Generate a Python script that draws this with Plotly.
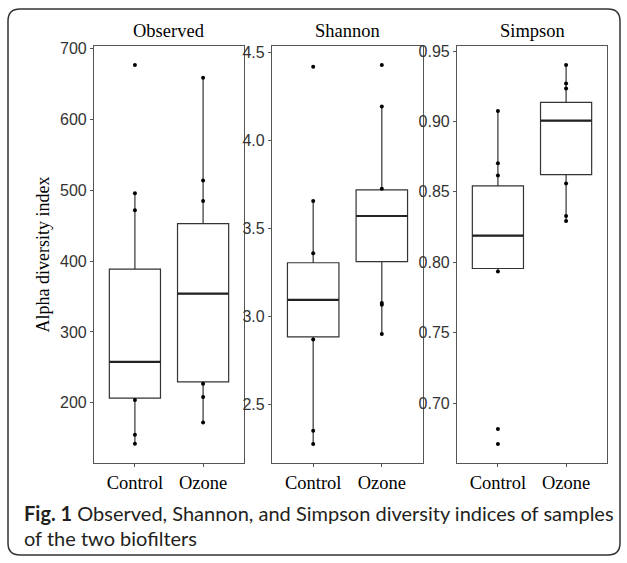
import plotly.graph_objects as go

# ---------------- data ----------------
groups = ["Control", "Ozone"]
metrics = ["Observed", "Shannon", "Simpson"]

observed_q1 = [206.5, 229.6]
observed_median = [257.7, 354.0]
observed_q3 = [388.7, 453.0]
observed_low = [141.7, 172.0]
observed_high = [496.0, 658.6]
observed_pts_control = [677, 496, 472, 204, 155, 142]
observed_pts_ozone = [659, 514, 485, 227, 208, 172]

shannon_q1 = [2.883, 3.311]
shannon_median = [3.094, 3.571]
shannon_q3 = [3.305, 3.720]
shannon_low = [2.274, 2.900]
shannon_high = [3.656, 4.194]
shannon_pts_control = [4.42, 3.656, 3.359, 2.868, 2.349, 2.274]
shannon_pts_ozone = [4.43, 4.194, 3.726, 3.076, 3.066, 2.900]

simpson_q1 = [0.7956, 0.8622]
simpson_median = [0.8189, 0.9006]
simpson_q3 = [0.8542, 0.9135]
simpson_low = [0.7934, 0.8294]
simpson_high = [0.9074, 0.9401]
simpson_pts_control = [0.9074, 0.8704, 0.8617, 0.7934, 0.6816, 0.6710]
simpson_pts_ozone = [0.9401, 0.9269, 0.9234, 0.8559, 0.8328, 0.8294]

observed_ticks = [200, 300, 400, 500, 600, 700]
shannon_ticks = [2.5, 3.0, 3.5, 4.0, 4.5]
simpson_ticks = [0.70, 0.75, 0.80, 0.85, 0.90, 0.95]

y_title = "Alpha diversity index"
caption_bold = "Fig. 1"
caption_line1 = " Observed, Shannon, and Simpson diversity indices of samples"
caption_line2 = "of the two biofilters"

# ---------------- layout geometry ----------------
W, H = 627, 563
px_x = lambda p: p / W
px_y = lambda p: 1 - p / H

x_domains = [[px_x(94), px_x(244)], [px_x(272), px_x(423)], [px_x(457), px_x(607)]]
y_domain = [px_y(463), px_y(46)]

panels = [
    (observed_q1, observed_median, observed_q3, observed_low, observed_high,
     observed_pts_control, observed_pts_ozone, observed_ticks, ".0f"),
    (shannon_q1, shannon_median, shannon_q3, shannon_low, shannon_high,
     shannon_pts_control, shannon_pts_ozone, shannon_ticks, ".1f"),
    (simpson_q1, simpson_median, simpson_q3, simpson_low, simpson_high,
     simpson_pts_control, simpson_pts_ozone, simpson_ticks, ".2f"),
]

box_w = 0.75
line_col = "#333333"
serif = "Liberation Serif, Times New Roman, serif"
sans = "Liberation Sans, Arial, sans-serif"

fig = go.Figure()
layout = dict(
    template="none",
    width=W, height=H,
    margin=dict(l=0, r=0, t=0, b=0, pad=0, autoexpand=False),
    paper_bgcolor="white", plot_bgcolor="white",
    showlegend=False,
    annotations=[], shapes=[],
)

pos = list(range(len(groups)))

for i, (q1, med, q3, lo, hi, pc, po, ticks, fmt) in enumerate(panels):
    sfx = "" if i == 0 else str(i + 1)
    xa, ya = "x" + sfx, "y" + sfx

    fig.add_trace(go.Box(
        x=pos, q1=q1, median=med, q3=q3, lowerfence=lo, upperfence=hi,
        width=box_w, fillcolor="white", whiskerwidth=0,
        line=dict(color=line_col, width=1.2), boxpoints=False,
        hoverinfo="skip", xaxis=xa, yaxis=ya,
    ))
    # thicker median line (ggplot style)
    mx, my = [], []
    for p, m in zip(pos, med):
        mx += [p - box_w / 2, p + box_w / 2, None]
        my += [m, m, None]
    fig.add_trace(go.Scatter(x=mx, y=my, mode="lines",
                             line=dict(color="#222222", width=2.2),
                             hoverinfo="skip", xaxis=xa, yaxis=ya))
    # sample points
    fig.add_trace(go.Scatter(
        x=[pos[0]] * len(pc) + [pos[1]] * len(po), y=pc + po,
        mode="markers", marker=dict(color="black", size=4),
        hoverinfo="skip", xaxis=xa, yaxis=ya))

    allv = pc + po + lo + hi
    vmin, vmax = min(allv), max(allv)
    ex = (vmax - vmin) * 0.05

    axis_common = dict(showline=True, mirror=True, linecolor="#555555", linewidth=1.2,
                       showgrid=False, zeroline=False, ticks="outside", ticklen=3,
                       tickcolor="#555555", tickwidth=1, automargin=False)
    layout["xaxis" + sfx] = dict(
        domain=x_domains[i], anchor=ya, range=[-0.6, 1.6],
        tickmode="array", tickvals=pos, ticktext=groups,
        tickfont=dict(family=serif, size=18.5, color="black"), **axis_common)
    layout["yaxis" + sfx] = dict(
        domain=y_domain, anchor=xa, range=[vmin - ex, vmax + ex],
        tickmode="array", tickvals=ticks, ticktext=[format(t, fmt) for t in ticks],
        tickfont=dict(family=sans, size=16, color="#333333"), **axis_common)

    layout["annotations"].append(dict(
        text=metrics[i], x=sum(x_domains[i]) / 2, y=px_y(31), xref="paper", yref="paper",
        showarrow=False, xanchor="center", yanchor="middle",
        font=dict(family=serif, size=18.5, color="black")))

layout["annotations"].append(dict(
    text=y_title, x=px_x(42), y=px_y(254.5), xref="paper", yref="paper",
    showarrow=False, textangle=-90, xanchor="center", yanchor="middle",
    font=dict(family=serif, size=18, color="black")))

cap_font = dict(family="Lato, Open Sans, sans-serif", size=20, color="#231f20")
layout["annotations"].append(dict(
    text="<b>" + caption_bold + "</b>" + caption_line1, x=px_x(22), y=px_y(513),
    xref="paper", yref="paper", showarrow=False, xanchor="left", yanchor="middle",
    font=cap_font))
layout["annotations"].append(dict(
    text=caption_line2, x=px_x(22), y=px_y(538),
    xref="paper", yref="paper", showarrow=False, xanchor="left", yanchor="middle",
    font=cap_font))

# rounded frame
x0, x1, y0, y1 = px_x(8), px_x(620), px_y(555), px_y(9)
rx, ry = 12 / W, 12 / H
path = (f"M {x0+rx},{y1} L {x1-rx},{y1} Q {x1},{y1} {x1},{y1-ry} "
        f"L {x1},{y0+ry} Q {x1},{y0} {x1-rx},{y0} L {x0+rx},{y0} "
        f"Q {x0},{y0} {x0},{y0+ry} L {x0},{y1-ry} Q {x0},{y1} {x0+rx},{y1} Z")
layout["shapes"].append(dict(type="path", path=path, xref="paper", yref="paper",
                             line=dict(color="#333333", width=1.5)))

fig.update_layout(**layout)
fig.write_html(
    "out.html",
    config={"displayModeBar": False, "responsive": False},
    post_script=("document.body.style.margin='0';document.body.style.padding='0';"
                 "document.documentElement.style.overflow='hidden';"
                 "document.body.style.overflow='hidden';window.scrollTo(0,0);"),
)
